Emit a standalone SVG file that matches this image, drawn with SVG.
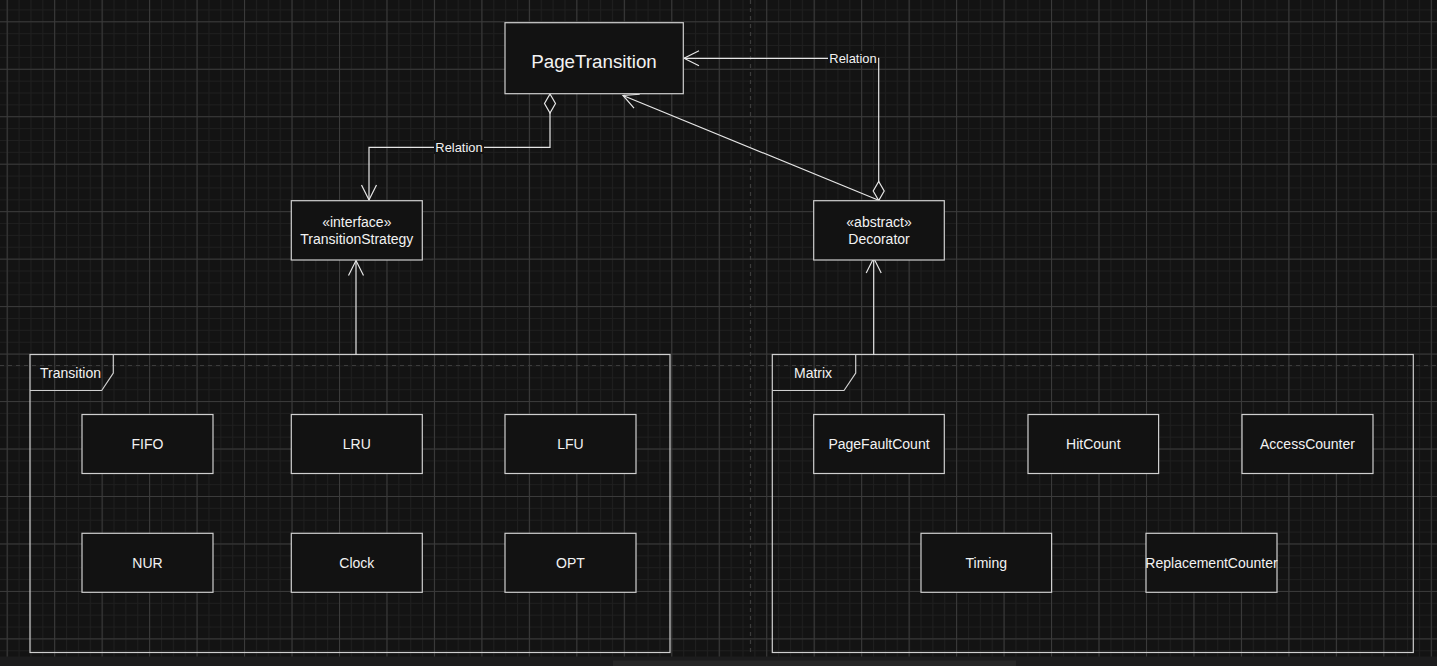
<svg xmlns="http://www.w3.org/2000/svg" width="1437" height="666" viewBox="0 0 1437 666">
<style>
.box{fill:#121212;stroke:#cfcfcf;stroke-width:1.2}
.frame{fill:none;stroke:#cfcfcf;stroke-width:1.2}
.t{font-family:"Liberation Sans",Arial,sans-serif;font-size:14px;fill:#f2f2f2;text-anchor:middle}
.big{font-size:18.8px}
.lbl{font-family:"Liberation Sans",Arial,sans-serif;font-size:12.9px;fill:#f2f2f2;text-anchor:middle}
.edge{fill:none;stroke:#e6e6e6;stroke-width:1.2}
.dash{stroke:#3c3c3c;stroke-width:1.2;stroke-dasharray:4 4;fill:none}
</style>
<defs>
<pattern id="minor" patternUnits="userSpaceOnUse" x="6.7" y="21.3" width="11.8675" height="11.8675">
<path d="M0 0.5H11.8675M0.5 0V11.8675" stroke="#1f1f1f" stroke-width="1" fill="none"/>
</pattern>
<pattern id="major" patternUnits="userSpaceOnUse" x="6.7" y="21.3" width="47.47" height="47.47">
<path d="M0 0.5H47.47M0.5 0V47.47" stroke="#3b3b3b" stroke-width="1" fill="none"/>
</pattern>
<marker id="arrow" markerUnits="userSpaceOnUse" markerWidth="20" markerHeight="20" viewBox="-17 -10 20 20" refX="0" refY="0" orient="auto" overflow="visible">
<path d="M-15 -7.5L0 0L-15 7.5" fill="none" stroke="#e6e6e6" stroke-width="1.2"/>
</marker>
<marker id="diamond" markerUnits="userSpaceOnUse" markerWidth="24" markerHeight="14" viewBox="-1 -7 22 14" refX="0" refY="0" orient="auto" overflow="visible">
<path d="M0 0L9.5 -5.5L19 0L9.5 5.5Z" fill="#121212" stroke="#e6e6e6" stroke-width="1.2"/>
</marker>
</defs>
<rect width="1437" height="666" fill="#131313"/>
<rect width="1437" height="666" fill="url(#minor)"/>
<rect width="1437" height="666" fill="url(#major)"/>
<path class="dash" d="M750.5 0V656M0 365.5H1437"/>
<rect x="0" y="656.5" width="1437" height="9.5" fill="#1c1c1d"/>
<rect x="613" y="660.5" width="403" height="5.5" fill="#272727"/>

<g id="frame-transition">
<rect class="frame" x="30" y="354.5" width="640" height="298"/>
<path class="frame" d="M30 390.5H101.7L113.3 373V354.5"/>
<text class="t" x="40" y="378" style="text-anchor:start">Transition</text>
</g>
<g id="frame-matrix">
<rect class="frame" x="772.3" y="354.5" width="641" height="298"/>
<path class="frame" d="M772.3 390.5H844L855.7 373V354.5"/>
<text class="t" x="794" y="378" style="text-anchor:start">Matrix</text>
</g>

<g id="connectors">
<path class="edge" d="M550 94V147.3H369V200" marker-start="url(#diamond)" marker-end="url(#arrow)"/>
<path class="edge" d="M878.7 200.5V58.3H684" marker-start="url(#diamond)" marker-end="url(#arrow)"/>
<path class="edge" d="M878 200L623 95.5" marker-end="url(#arrow)"/>
<path class="edge" d="M356 354.5V260.5" marker-end="url(#arrow)"/>
<path class="edge" d="M873.7 354.5V258" marker-end="url(#arrow)"/>
<rect x="434" y="140" width="50" height="14" fill="#131313"/>
<text class="lbl" x="459" y="151.8">Relation</text>
<rect x="828" y="51" width="50" height="14" fill="#131313"/>
<text class="lbl" x="853" y="62.5">Relation</text>
</g>

<g id="PageTransition">
<rect class="box" x="505" y="22.7" width="178.3" height="71"/>
<text class="t big" x="594" y="67.5">PageTransition</text>
</g>
<g id="TransitionStrategy">
<rect class="box" x="291.3" y="200.7" width="131" height="59.3"/>
<text class="t" x="356.8" y="227.3">«interface»</text>
<text class="t" x="356.8" y="244.3">TransitionStrategy</text>
</g>
<g id="Decorator">
<rect class="box" x="813.7" y="200.7" width="130.6" height="59.3"/>
<text class="t" x="879" y="226.7">«abstract»</text>
<text class="t" x="879" y="244">Decorator</text>
</g>

<g id="FIFO"><rect class="box" x="82" y="414.5" width="131" height="59"/><text class="t" x="147.5" y="449">FIFO</text></g>
<g id="LRU"><rect class="box" x="291.3" y="414.5" width="131" height="59"/><text class="t" x="356.8" y="449">LRU</text></g>
<g id="LFU"><rect class="box" x="505" y="414.5" width="131" height="59"/><text class="t" x="570.5" y="449">LFU</text></g>
<g id="NUR"><rect class="box" x="82" y="533.3" width="131" height="59"/><text class="t" x="147.5" y="568">NUR</text></g>
<g id="Clock"><rect class="box" x="291.3" y="533.3" width="131" height="59"/><text class="t" x="356.8" y="568">Clock</text></g>
<g id="OPT"><rect class="box" x="505" y="533.3" width="131" height="59"/><text class="t" x="570.5" y="568">OPT</text></g>

<g id="PageFaultCount"><rect class="box" x="813.7" y="414.5" width="130.6" height="59"/><text class="t" x="879" y="449">PageFaultCount</text></g>
<g id="HitCount"><rect class="box" x="1028" y="414.5" width="130.6" height="59"/><text class="t" x="1093.3" y="449">HitCount</text></g>
<g id="AccessCounter"><rect class="box" x="1242" y="414.5" width="131" height="59"/><text class="t" x="1307.5" y="449">AccessCounter</text></g>
<g id="Timing"><rect class="box" x="921" y="533.3" width="130.6" height="59"/><text class="t" x="986.3" y="568">Timing</text></g>
<g id="ReplacementCounter"><rect class="box" x="1146" y="533.3" width="131" height="59"/><text class="t" x="1211.5" y="568">ReplacementCounter</text></g>
</svg>
